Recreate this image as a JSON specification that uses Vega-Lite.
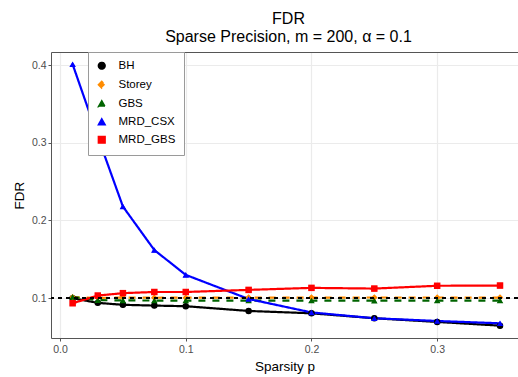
{
  "$schema": "https://vega.github.io/schema/vega-lite/v6.json",
  "autosize": "none",
  "padding": {"left": 51, "top": 52, "right": 0, "bottom": 39},
  "width": 467,
  "height": 286,
  "background": "white",
  "config": {
    "font": "Liberation Sans",
    "view": {"stroke": null},
    "axis": {
      "labelFont": "Liberation Sans",
      "titleFont": "Liberation Sans",
      "labelColor": "#4D4D4D",
      "labelFontSize": 10.5,
      "titleFontSize": 13.5,
      "titleFontWeight": "normal",
      "titleColor": "#000000",
      "domainColor": "#555555",
      "domainWidth": 1,
      "tickColor": "#555555",
      "tickSize": 3,
      "gridColor": "#EBEBEB",
      "gridWidth": 1.2
    }
  },
  "title": {
    "text": "FDR",
    "subtitle": "Sparse Precision, m = 200, α = 0.1",
    "anchor": "middle",
    "fontSize": 16,
    "fontWeight": "normal",
    "subtitleFontSize": 16,
    "subtitleColor": "#000000",
    "color": "#000000",
    "font": "Liberation Sans",
    "subtitleFont": "Liberation Sans",
    "subtitlePadding": 2,
    "offset": 7,
    "dx": 4
  },
  "data": {
    "values": [
      {"p": 0.01, "method": "BH", "fdr": 0.1000},
      {"p": 0.03, "method": "BH", "fdr": 0.0940},
      {"p": 0.05, "method": "BH", "fdr": 0.0915},
      {"p": 0.075, "method": "BH", "fdr": 0.0905},
      {"p": 0.1, "method": "BH", "fdr": 0.0897},
      {"p": 0.15, "method": "BH", "fdr": 0.0836},
      {"p": 0.2, "method": "BH", "fdr": 0.0806},
      {"p": 0.25, "method": "BH", "fdr": 0.0742},
      {"p": 0.3, "method": "BH", "fdr": 0.0695},
      {"p": 0.35, "method": "BH", "fdr": 0.0647},
      {"p": 0.01, "method": "Storey", "fdr": 0.1012},
      {"p": 0.03, "method": "Storey", "fdr": 0.1005},
      {"p": 0.05, "method": "Storey", "fdr": 0.1008},
      {"p": 0.075, "method": "Storey", "fdr": 0.1006},
      {"p": 0.1, "method": "Storey", "fdr": 0.1007},
      {"p": 0.15, "method": "Storey", "fdr": 0.1008},
      {"p": 0.2, "method": "Storey", "fdr": 0.1008},
      {"p": 0.25, "method": "Storey", "fdr": 0.1009},
      {"p": 0.3, "method": "Storey", "fdr": 0.1009},
      {"p": 0.35, "method": "Storey", "fdr": 0.1008},
      {"p": 0.01, "method": "GBS", "fdr": 0.1017},
      {"p": 0.03, "method": "GBS", "fdr": 0.0975},
      {"p": 0.05, "method": "GBS", "fdr": 0.0972},
      {"p": 0.075, "method": "GBS", "fdr": 0.0970},
      {"p": 0.1, "method": "GBS", "fdr": 0.0970},
      {"p": 0.15, "method": "GBS", "fdr": 0.0970},
      {"p": 0.2, "method": "GBS", "fdr": 0.0970},
      {"p": 0.25, "method": "GBS", "fdr": 0.0968},
      {"p": 0.3, "method": "GBS", "fdr": 0.0970},
      {"p": 0.35, "method": "GBS", "fdr": 0.0970},
      {"p": 0.01, "method": "MRD_CSX", "fdr": 0.4010},
      {"p": 0.03, "method": "MRD_CSX", "fdr": 0.3080},
      {"p": 0.05, "method": "MRD_CSX", "fdr": 0.2180},
      {"p": 0.075, "method": "MRD_CSX", "fdr": 0.1620},
      {"p": 0.1, "method": "MRD_CSX", "fdr": 0.1300},
      {"p": 0.15, "method": "MRD_CSX", "fdr": 0.0990},
      {"p": 0.2, "method": "MRD_CSX", "fdr": 0.0817},
      {"p": 0.25, "method": "MRD_CSX", "fdr": 0.0742},
      {"p": 0.3, "method": "MRD_CSX", "fdr": 0.0707},
      {"p": 0.35, "method": "MRD_CSX", "fdr": 0.0677},
      {"p": 0.01, "method": "MRD_GBS", "fdr": 0.0935},
      {"p": 0.03, "method": "MRD_GBS", "fdr": 0.1034},
      {"p": 0.05, "method": "MRD_GBS", "fdr": 0.1065},
      {"p": 0.075, "method": "MRD_GBS", "fdr": 0.1080},
      {"p": 0.1, "method": "MRD_GBS", "fdr": 0.1080},
      {"p": 0.15, "method": "MRD_GBS", "fdr": 0.1107},
      {"p": 0.2, "method": "MRD_GBS", "fdr": 0.1133},
      {"p": 0.25, "method": "MRD_GBS", "fdr": 0.1124},
      {"p": 0.3, "method": "MRD_GBS", "fdr": 0.1160},
      {"p": 0.35, "method": "MRD_GBS", "fdr": 0.1163}
    ]
  },
  "layer": [
    {
      "mark": {"type": "line", "strokeWidth": 2.2},
      "encoding": {
        "x": {
          "field": "p", "type": "quantitative",
          "scale": {"domain": [-0.0072, 0.3643], "nice": false, "zero": false},
          "axis": {"title": "Sparsity p", "values": [0, 0.1, 0.2, 0.3], "format": ".1f", "labelPadding": 3, "titlePadding": 5}
        },
        "y": {
          "field": "fdr", "type": "quantitative",
          "scale": {"domain": [0.0488, 0.4168], "nice": false, "zero": false},
          "axis": {"title": "FDR", "values": [0.1, 0.2, 0.3, 0.4], "format": ".1f", "labelPadding": 2, "titlePadding": 5}
        },
        "color": {
          "field": "method", "type": "nominal",
          "scale": {"domain": ["BH", "Storey", "GBS", "MRD_CSX", "MRD_GBS"], "range": ["#000000", "#FF8C00", "#006400", "#0000FF", "#FF0000"]},
          "legend": {
            "title": null,
            "orient": "none",
            "legendX": 37,
            "legendY": 0,
            "fillColor": "white",
            "strokeColor": "#9A9A9A",
            "padding": 8,
            "labelFontSize": 11.5,
            "labelFont": "Liberation Sans",
            "labelColor": "#000000",
            "rowPadding": 5,
            "labelOffset": 11,
            "symbolSize": 45,
            "symbolOpacity": 1
          }
        },
        "shape": {
          "field": "method", "type": "nominal",
          "scale": {"domain": ["BH", "Storey", "GBS", "MRD_CSX", "MRD_GBS"], "range": ["circle", "diamond", "triangle-up", "triangle-up", "square"]}
        },
        "strokeDash": {
          "field": "method", "type": "nominal",
          "scale": {"domain": ["BH", "Storey", "GBS", "MRD_CSX", "MRD_GBS"], "range": [[1, 0], [7, 7], [7, 7], [1, 0], [1, 0]]},
          "legend": null
        }
      }
    },
    {
      "mark": {"type": "point", "filled": true, "opacity": 1, "size": 42},
      "encoding": {
        "x": {"field": "p", "type": "quantitative", "axis": {"orient": "top", "labels": false, "ticks": false, "grid": false, "title": null, "domain": true}},
        "y": {"field": "fdr", "type": "quantitative"},
        "color": {"field": "method", "type": "nominal"},
        "shape": {"field": "method", "type": "nominal"}
      }
    },
    {
      "mark": {"type": "rule", "color": "#000000", "strokeWidth": 1, "strokeDash": [4, 4]},
      "encoding": {"y": {"datum": 0.1}}
    }
  ],
  "resolve": {"axis": {"x": "independent"}}
}
